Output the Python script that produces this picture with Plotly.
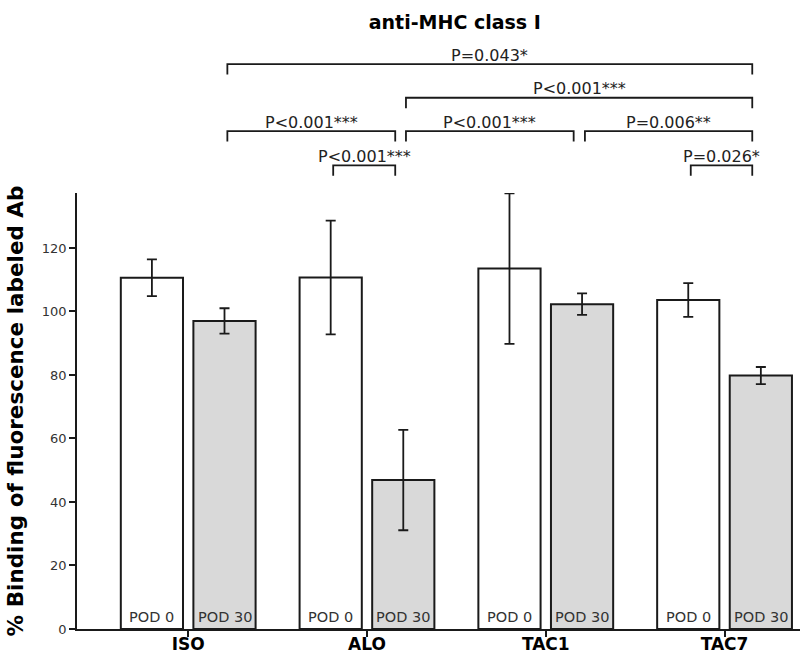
import plotly.graph_objects as go

categories = ["ISO", "ALO", "TAC1", "TAC7"]
pod0 = [110.6, 110.7, 113.5, 103.6]
pod0_err = [5.8, 17.9, 23.7, 5.3]
pod30 = [97.0, 46.9, 102.3, 79.8]
pod30_err = [4.0, 15.8, 3.4, 2.7]
bar_labels = ["POD 0", "POD 30"]

# significance brackets: (start, end, height, label) in category / value units
br_start = [0.219, 1.218, 0.219, 1.218, 2.219, 0.811, 2.811]
br_end = [3.155, 3.155, 1.158, 2.156, 3.155, 1.158, 3.155]
br_height = [177.9, 167.3, 156.8, 156.8, 156.8, 146.0, 146.0]
br_label = ["P=0.043*", "P<0.001***", "P<0.001***", "P<0.001***",
            "P=0.006**", "P<0.001***", "P=0.026*"]

YMAX = 137.3
DROP = 3.3
FONT = "DejaVu Sans"
LINE = "#1a1a1a"

fig = go.Figure()
fig.add_trace(go.Bar(
    x=categories, y=pod0, name=bar_labels[0],
    marker=dict(color="white", line=dict(color=LINE, width=2)),
    error_y=dict(type="data", array=pod0_err, color=LINE, thickness=1.8, width=5),
))
fig.add_trace(go.Bar(
    x=categories, y=pod30, name=bar_labels[1],
    marker=dict(color="#d9d9d9", line=dict(color=LINE, width=2)),
    error_y=dict(type="data", array=pod30_err, color=LINE, thickness=1.8, width=5),
))

slot = 0.406
annotations = []
for i, c in enumerate(categories):
    for j, lab in enumerate(bar_labels):
        annotations.append(dict(
            x=i + (j - 0.5) * slot, y=3.8, xref="x", yref="y", text=lab,
            showarrow=False, font=dict(family=FONT, size=14.5, color="#333333"),
            xanchor="center", yanchor="middle"))

shapes = []
for x0, x1, h, lab in zip(br_start, br_end, br_height, br_label):
    shapes.append(dict(
        type="path", xref="x", yref="paper",
        path=f"M {x0},{(h - DROP) / YMAX} L {x0},{h / YMAX} L {x1},{h / YMAX} L {x1},{(h - DROP) / YMAX}",
        line=dict(color=LINE, width=1.8)))
    annotations.append(dict(
        x=(x0 + x1) / 2, y=h / YMAX, xref="x", yref="paper", text=lab,
        showarrow=False, yshift=9, xanchor="center", yanchor="middle",
        font=dict(family=FONT, size=16, color="#222222")))

fig.update_layout(
    width=805, height=657,
    margin=dict(l=77, r=5, t=193, b=28, autoexpand=False),
    paper_bgcolor="white", plot_bgcolor="white",
    showlegend=False,
    barmode="group", bargap=0.188, bargroupgap=0.143,
    title=dict(text="anti-MHC class I", x=0.565, xref="container", y=1 - 22 / 657,
               yref="container", xanchor="center", yanchor="middle",
               font=dict(family=FONT, size=19, color="black", weight="bold")),
    xaxis=dict(range=[-0.622, 3.422], showline=True, linecolor=LINE, linewidth=1.8,
               automargin=False,
               ticks="outside", ticklen=6, tickwidth=1.8, tickcolor=LINE,
               ticklabelstandoff=-7,
               tickfont=dict(family=FONT, size=17, color="black", weight="bold"),
               showgrid=False, zeroline=False),
    yaxis=dict(range=[0, YMAX], showline=True, linecolor=LINE, linewidth=1.8,
               automargin=False,
               tickvals=[0, 20, 40, 60, 80, 100, 120],
               ticks="outside", ticklen=6, tickwidth=1.8, tickcolor=LINE,
               tickfont=dict(family=FONT, size=13, color="#333333"),
               showgrid=False, zeroline=False,
               title=dict(text="% Binding of fluorescence labeled Ab", standoff=12,
                          font=dict(family=FONT, size=21.5, color="black", weight="bold"))),
    shapes=shapes, annotations=annotations,
)

fig.write_html("out.html", config={"displayModeBar": False},
               post_script="document.body.style.margin='0px';document.body.style.overflow='hidden';")
